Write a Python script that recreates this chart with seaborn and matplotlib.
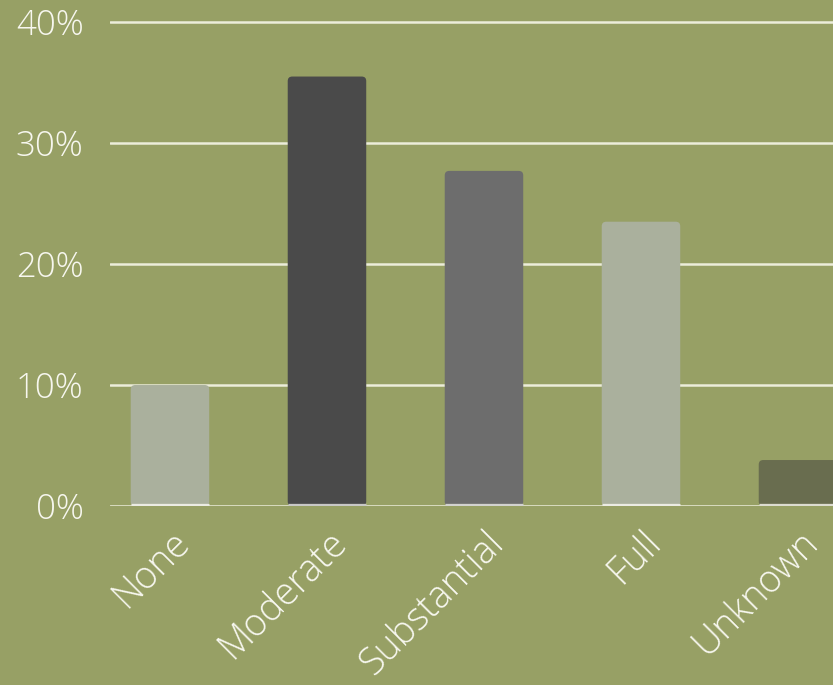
import matplotlib
matplotlib.use("Agg")
import matplotlib.pyplot as plt
import matplotlib.transforms as mtransforms
import seaborn as sns
from matplotlib.patches import FancyBboxPatch

# Share of respondents by level
categories = ["None", "Moderate", "Substantial", "Full", "Unknown"]
shares = [10.0, 35.5, 27.7, 23.5, 3.8]
bar_colors = ["#aab09d", "#4a4a4a", "#6d6d6d", "#aab09d", "#696d4f"]
base_colors = ["#ebebe3", "#c8c8c6", "#d2d2cf", "#ebebe3", "#dcdcd0"]
y_ticks = [0, 10, 20, 30, 40]
y_tick_labels = ["0%", "10%", "20%", "30%", "40%"]

BG = "#97a065"
GRID = "#ecedda"
TEXT = "#f7f7ef"

sns.set_theme(style="white")
plt.rcParams["font.family"] = ["Open Sans", "DejaVu Sans"]

fig = plt.figure(figsize=(8.33, 6.85), dpi=100, facecolor=BG)
ax = fig.add_axes([110 / 833, (685 - 506) / 685, (833 - 110) / 833, 496 / 685])
ax.set_facecolor(BG)

sns.barplot(x=categories, y=shares, hue=categories, palette=bar_colors,
            width=0.5, saturation=1, legend=False, ax=ax, zorder=2)

ax.set_xlim(-0.382, 4.223)
ax.set_ylim(0, 41)

# rounded tops on the bars
px_x = 157.0  # pixels per category unit
px_y = 12.1   # pixels per percent
r_px = 4.5
for p, col in zip(list(ax.patches), bar_colors):
    x0, y0 = p.get_x(), p.get_y()
    w, h = p.get_width(), p.get_height()
    p.remove()
    fb = FancyBboxPatch((x0, y0), w, h,
                        boxstyle=f"round,pad=0,rounding_size={r_px / px_x}",
                        mutation_aspect=px_x / px_y,
                        facecolor=col, edgecolor="none", zorder=2)
    ax.add_patch(fb)

# lighter strip at the foot of each bar
for i, c in enumerate(base_colors):
    ax.hlines(0, i - 0.25, i + 0.25, colors=c, lw=3.8, zorder=3,
              capstyle="butt")

for yt in y_ticks:
    ax.axhline(yt, color=GRID, lw=1.8, zorder=1)

ax.set_yticks(y_ticks)
ax.set_yticklabels(y_tick_labels)
for s in ax.spines.values():
    s.set_visible(False)
ax.tick_params(axis="y", length=0, pad=19, labelsize=25, labelcolor=TEXT)
ax.tick_params(axis="x", length=0, pad=22, labelsize=27, labelcolor=TEXT)
for lab in ax.get_yticklabels():
    lab.set_fontweight("light")
shift = mtransforms.ScaledTranslation(14 / 100, 0, fig.dpi_scale_trans)
for lab in ax.get_xticklabels():
    lab.set_rotation(45)
    lab.set_ha("right")
    lab.set_va("center")
    lab.set_rotation_mode("anchor")
    lab.set_fontweight("light")
    lab.set_transform(lab.get_transform() + shift)
ax.set_xlabel("")
ax.set_ylabel("")
ax.grid(False)

fig.savefig("out.png", dpi=100, facecolor=BG)
